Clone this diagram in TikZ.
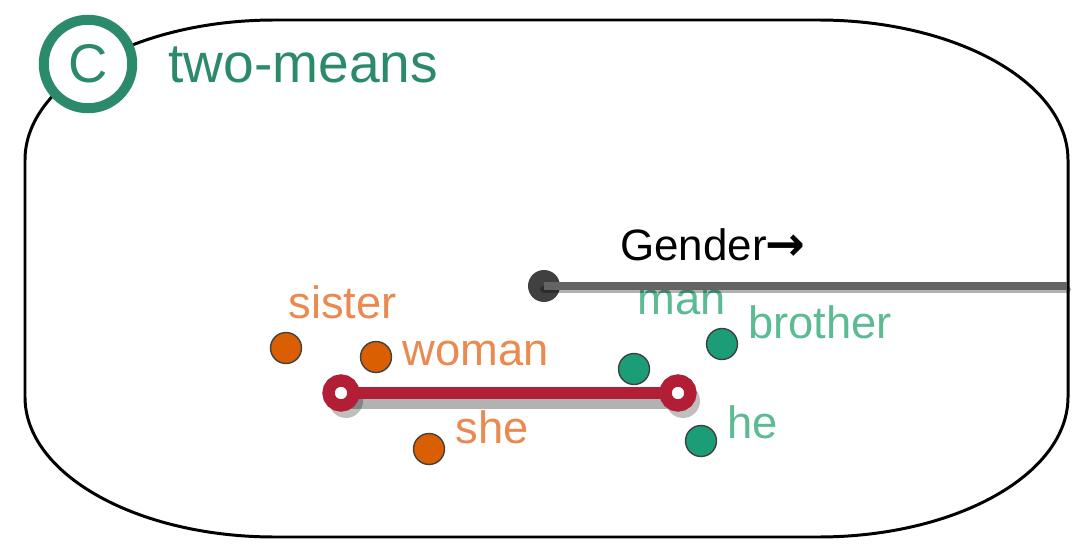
\documentclass[tikz,border=0pt]{standalone}
\usepackage{fontspec}
\setmainfont{Liberation Sans}
\newfontfamily\arrowfont{DejaVu Sans}
\usetikzlibrary{positioning}
\definecolor{tealtitle}{HTML}{2B8A6B}
\definecolor{femdot}{HTML}{D95F02}
\definecolor{femtext}{HTML}{EA8A50}
\definecolor{maldot}{HTML}{1B9E77}
\definecolor{maltext}{HTML}{5DBB94}
\definecolor{barred}{HTML}{B21E35}
\definecolor{axisgray}{HTML}{646464}
\begin{document}
\begin{tikzpicture}[
    x=0.02cm, y=0.02cm,
    femword/.style={anchor=base west, inner sep=0pt, text=femtext, font=\fontsize{25.8}{30}\selectfont},
    malword/.style={anchor=base west, inner sep=0pt, text=maltext, font=\fontsize{25.8}{30}\selectfont},
    fempoint/.style={circle, draw=black!75, line width=0.8pt, fill=femdot, minimum size=0.62cm, inner sep=0pt},
    malpoint/.style={circle, draw=black!75, line width=0.8pt, fill=maldot, minimum size=0.62cm, inner sep=0pt},
    meanend/.style={circle, draw=barred, line width=7pt, fill=white, minimum size=0.5cm, inner sep=0pt},
    shade/.style={draw=black, opacity=0.3, line cap=round}
]
    \useasboundingbox (0,0) rectangle (1075,545);

    % Frame
    \draw [line width=1.7pt] (275,525) -- (818,525)
        arc [start angle=90, end angle=0, x radius=250, y radius=140] -- (1068,148)
        arc [start angle=0, end angle=-90, x radius=250, y radius=140] -- (275,8)
        arc [start angle=270, end angle=180, x radius=250, y radius=140] -- (25,385)
        arc [start angle=180, end angle=90, x radius=250, y radius=140] -- cycle;

    % Panel badge and title
    \node [circle, draw=tealtitle, line width=5.7pt, fill=white, minimum size=1.77cm, inner sep=0pt,
           text=tealtitle, font=\fontsize{31}{35}\selectfont] (badge) at (88,481) {C};
    \node [anchor=base west, inner sep=0pt, text=tealtitle, font=\fontsize{31.4}{35}\selectfont] (title) at (168,462) {two-means};

    % Female words
    \node [fempoint] (sister) at (286,197) {};
    \node [fempoint] (woman) at (376,188) {};
    \node [fempoint] (she) at (429,96) {};
    \node [femword] (sisterlabel) at (288,227) {sister};
    \node [femword] (womanlabel) at (402,180) {woman};
    \node [femword] (shelabel) at (455,102) {she};

    % Male words
    \node [malpoint] (man) at (634,176) {};
    \node [malpoint] (brother) at (722,201) {};
    \node [malpoint] (he) at (701,104) {};
    \node [malword] (manlabel) at (637,231) {man};
    \node [malword] (brotherlabel) at (748,207) {brother};
    \node [malword] (helabel) at (727,107) {he};

    % Gender direction
    \node [circle, fill=black!75, minimum size=0.64cm, inner sep=0pt] (origin) at (544,259) {};
    \coordinate (axisend) at (1067,259);
    \node [anchor=base west, inner sep=0pt, font=\fontsize{25}{30}\selectfont] (gender) at (620,285)
        {Gender\kern-1pt{\arrowfont\bfseries\fontsize{27}{30}\selectfont →}};
    \draw [shade, line width=4.5pt] ([yshift=-2]origin.center) -- ([yshift=-2]axisend);
    \draw [axisgray, line width=4.5pt] (origin.center) -- (axisend);

    % Two means
    \coordinate (femmean) at (341,152);
    \coordinate (malmean) at (678,152);
    \draw [shade, line width=9pt] ([shift={(5,-8)}]femmean) -- ([shift={(5,-8)}]malmean);
    \fill [black, opacity=0.25] ([shift={(5,-8)}]femmean) circle (17) ([shift={(5,-8)}]malmean) circle (17);
    \draw [barred, line width=6.8pt] (femmean) -- (malmean);
    \node [meanend] (femend) at (femmean) {};
    \node [meanend] (malend) at (malmean) {};
\end{tikzpicture}
\end{document}
